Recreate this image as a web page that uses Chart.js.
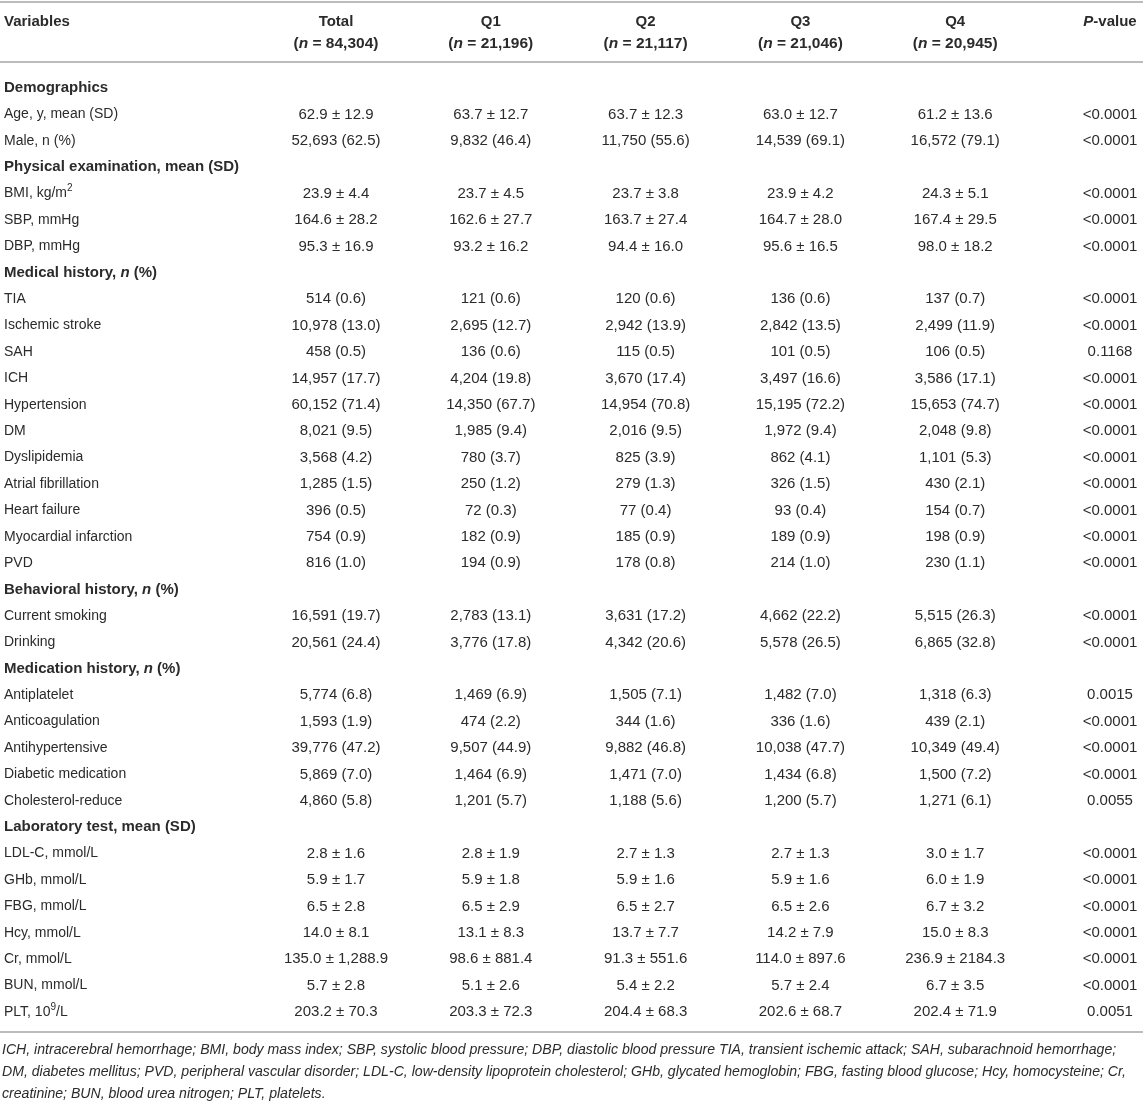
<!DOCTYPE html>
<html>
<head>
<meta charset="utf-8">
<script src="https://cdn.jsdelivr.net/npm/chart.js@4.4.1/dist/chart.umd.min.js"></script>
<style>
  html, body { margin: 0; background: #fff; }
  #wrap { width: 1143px; height: 1101px; }
</style>
</head>
<body>
<div id="wrap"><canvas id="tbl"></canvas></div>
<script>
// columns of the table
const columns = ['Total', 'Q1', 'Q2', 'Q3', 'Q4', 'P-value'];
const groupSizes = ['84,304', '21,196', '21,117', '21,046', '20,945'];

// {i:..} = italic, {s:..} = superscript
const sections = ['Demographics', 'Physical examination, mean (SD)', 'Medical history, {i:n} (%)',
  'Behavioral history, {i:n} (%)', 'Medication history, {i:n} (%)', 'Laboratory test, mean (SD)'];
const sectionSizes = [2, 3, 11, 2, 5, 7];

const variables = ['Age, y, mean (SD)', 'Male, n (%)',
  'BMI, kg/m{s:2}', 'SBP, mmHg', 'DBP, mmHg',
  'TIA', 'Ischemic stroke', 'SAH', 'ICH', 'Hypertension', 'DM', 'Dyslipidemia',
  'Atrial fibrillation', 'Heart failure', 'Myocardial infarction', 'PVD',
  'Current smoking', 'Drinking',
  'Antiplatelet', 'Anticoagulation', 'Antihypertensive', 'Diabetic medication', 'Cholesterol-reduce',
  'LDL-C, mmol/L', 'GHb, mmol/L', 'FBG, mmol/L', 'Hcy, mmol/L', 'Cr, mmol/L', 'BUN, mmol/L', 'PLT, 10{s:9}/L'];

const totalVals = ['62.9 ± 12.9', '52,693 (62.5)', '23.9 ± 4.4', '164.6 ± 28.2', '95.3 ± 16.9',
  '514 (0.6)', '10,978 (13.0)', '458 (0.5)', '14,957 (17.7)', '60,152 (71.4)', '8,021 (9.5)', '3,568 (4.2)',
  '1,285 (1.5)', '396 (0.5)', '754 (0.9)', '816 (1.0)', '16,591 (19.7)', '20,561 (24.4)',
  '5,774 (6.8)', '1,593 (1.9)', '39,776 (47.2)', '5,869 (7.0)', '4,860 (5.8)',
  '2.8 ± 1.6', '5.9 ± 1.7', '6.5 ± 2.8', '14.0 ± 8.1', '135.0 ± 1,288.9', '5.7 ± 2.8', '203.2 ± 70.3'];
const q1Vals = ['63.7 ± 12.7', '9,832 (46.4)', '23.7 ± 4.5', '162.6 ± 27.7', '93.2 ± 16.2',
  '121 (0.6)', '2,695 (12.7)', '136 (0.6)', '4,204 (19.8)', '14,350 (67.7)', '1,985 (9.4)', '780 (3.7)',
  '250 (1.2)', '72 (0.3)', '182 (0.9)', '194 (0.9)', '2,783 (13.1)', '3,776 (17.8)',
  '1,469 (6.9)', '474 (2.2)', '9,507 (44.9)', '1,464 (6.9)', '1,201 (5.7)',
  '2.8 ± 1.9', '5.9 ± 1.8', '6.5 ± 2.9', '13.1 ± 8.3', '98.6 ± 881.4', '5.1 ± 2.6', '203.3 ± 72.3'];
const q2Vals = ['63.7 ± 12.3', '11,750 (55.6)', '23.7 ± 3.8', '163.7 ± 27.4', '94.4 ± 16.0',
  '120 (0.6)', '2,942 (13.9)', '115 (0.5)', '3,670 (17.4)', '14,954 (70.8)', '2,016 (9.5)', '825 (3.9)',
  '279 (1.3)', '77 (0.4)', '185 (0.9)', '178 (0.8)', '3,631 (17.2)', '4,342 (20.6)',
  '1,505 (7.1)', '344 (1.6)', '9,882 (46.8)', '1,471 (7.0)', '1,188 (5.6)',
  '2.7 ± 1.3', '5.9 ± 1.6', '6.5 ± 2.7', '13.7 ± 7.7', '91.3 ± 551.6', '5.4 ± 2.2', '204.4 ± 68.3'];
const q3Vals = ['63.0 ± 12.7', '14,539 (69.1)', '23.9 ± 4.2', '164.7 ± 28.0', '95.6 ± 16.5',
  '136 (0.6)', '2,842 (13.5)', '101 (0.5)', '3,497 (16.6)', '15,195 (72.2)', '1,972 (9.4)', '862 (4.1)',
  '326 (1.5)', '93 (0.4)', '189 (0.9)', '214 (1.0)', '4,662 (22.2)', '5,578 (26.5)',
  '1,482 (7.0)', '336 (1.6)', '10,038 (47.7)', '1,434 (6.8)', '1,200 (5.7)',
  '2.7 ± 1.3', '5.9 ± 1.6', '6.5 ± 2.6', '14.2 ± 7.9', '114.0 ± 897.6', '5.7 ± 2.4', '202.6 ± 68.7'];
const q4Vals = ['61.2 ± 13.6', '16,572 (79.1)', '24.3 ± 5.1', '167.4 ± 29.5', '98.0 ± 18.2',
  '137 (0.7)', '2,499 (11.9)', '106 (0.5)', '3,586 (17.1)', '15,653 (74.7)', '2,048 (9.8)', '1,101 (5.3)',
  '430 (2.1)', '154 (0.7)', '198 (0.9)', '230 (1.1)', '5,515 (26.3)', '6,865 (32.8)',
  '1,318 (6.3)', '439 (2.1)', '10,349 (49.4)', '1,500 (7.2)', '1,271 (6.1)',
  '3.0 ± 1.7', '6.0 ± 1.9', '6.7 ± 3.2', '15.0 ± 8.3', '236.9 ± 2184.3', '6.7 ± 3.5', '202.4 ± 71.9'];
const pValues = ['<0.0001', '<0.0001', '<0.0001', '<0.0001', '<0.0001',
  '<0.0001', '<0.0001', '0.1168', '<0.0001', '<0.0001', '<0.0001', '<0.0001',
  '<0.0001', '<0.0001', '<0.0001', '<0.0001', '<0.0001', '<0.0001',
  '0.0015', '<0.0001', '<0.0001', '<0.0001', '0.0055',
  '<0.0001', '<0.0001', '<0.0001', '<0.0001', '<0.0001', '<0.0001', '0.0051'];

const footnote = [
  'ICH, intracerebral hemorrhage; BMI, body mass index; SBP, systolic blood pressure; DBP, diastolic blood pressure TIA, transient ischemic attack; SAH, subarachnoid hemorrhage;',
  'DM, diabetes mellitus; PVD, peripheral vascular disorder; LDL-C, low-density lipoprotein cholesterol; GHb, glycated hemoglobin; FBG, fasting blood glucose; Hcy, homocysteine; Cr,',
  'creatinine; BUN, blood urea nitrogen; PLT, platelets.'
];

const FONT = '"Liberation Sans", Arial, Helvetica, sans-serif';
const TEXT = '#2b2b2b';
const RULE = '#bcbcbc';

// rows = section headers interleaved with variables
const rowKeys = [];
const rowIsSection = [];
let k = 0;
sections.forEach((s, i) => {
  rowKeys.push(s);
  rowIsSection.push(true);
  for (let j = 0; j < sectionSizes[i]; j++) {
    rowKeys.push(variables[k++]);
    rowIsSection.push(false);
  }
});

const colValues = [totalVals, q1Vals, q2Vals, q3Vals, q4Vals, pValues];

function splitRich(str) {
  const parts = [];
  const re = /\{([is]):([^}]*)\}/g;
  let last = 0, m;
  while ((m = re.exec(str)) !== null) {
    if (m.index > last) parts.push({ t: str.slice(last, m.index), kind: '' });
    parts.push({ t: m[2], kind: m[1] });
    last = re.lastIndex;
  }
  if (last < str.length) parts.push({ t: str.slice(last), kind: '' });
  return parts;
}

function fontFor(kind, size, bold, italic) {
  const st = (italic || kind === 'i') ? 'italic ' : '';
  const w = bold ? 'bold ' : '';
  const sz = kind === 's' ? Math.round(size * 0.7) : size;
  return st + w + sz + 'px ' + FONT;
}

function drawRich(ctx, str, x, y, opt) {
  const size = opt.size || 14;
  const parts = splitRich(str);
  let total = 0;
  parts.forEach(p => {
    ctx.font = fontFor(p.kind, size, opt.bold, opt.italic);
    p.w = ctx.measureText(p.t).width;
    total += p.w;
  });
  let cx = x;
  if (opt.align === 'center') cx = x - total / 2;
  else if (opt.align === 'right') cx = x - total;
  ctx.textAlign = 'left';
  ctx.textBaseline = 'middle';
  parts.forEach(p => {
    ctx.font = fontFor(p.kind, size, opt.bold, opt.italic);
    const dy = p.kind === 's' ? -size * 0.35 : 0;
    ctx.fillText(p.t, cx, y + dy);
    cx += p.w;
  });
}

const tablePlugin = {
  id: 'tableText',
  afterDatasetsDraw(chart) {
    const { ctx, scales: { x, y } } = chart;
    const W = chart.width;
    ctx.save();
    ctx.fillStyle = TEXT;

    // rules
    ctx.strokeStyle = RULE;
    ctx.lineWidth = 2;
    [2, 62, 1032].forEach(ry => {
      ctx.beginPath();
      ctx.moveTo(0, ry);
      ctx.lineTo(W, ry);
      ctx.stroke();
    });

    // header
    drawRich(ctx, 'Variables', 4, 22, { bold: true, size: 15, align: 'left' });
    columns.forEach((c, ci) => {
      const px = x.getPixelForValue(ci);
      if (c === 'P-value') {
        drawRich(ctx, '{i:P}-value', px, 22, { bold: true, size: 15, align: 'center' });
      } else {
        drawRich(ctx, c, px, 22, { bold: true, size: 15, align: 'center' });
        drawRich(ctx, '({i:n} = ' + groupSizes[ci] + ')', px, 44, { bold: true, size: 15.5, align: 'center' });
      }
    });

    // row labels
    rowKeys.forEach((r, i) => {
      const sec = rowIsSection[i];
      drawRich(ctx, r, 4, y.getPixelForValue(i), { bold: sec, size: sec ? 15 : 14, align: 'left' });
    });

    // cells
    chart.data.datasets.forEach((ds, di) => {
      chart.getDatasetMeta(di).data.forEach((pt, i) => {
        drawRich(ctx, ds.data[i].text, pt.x, pt.y, { size: 15, align: 'center' });
      });
    });

    // footnote
    footnote.forEach((line, i) => {
      drawRich(ctx, line, 2, 1050 + i * 22, { italic: true, size: 14.1, align: 'left' });
    });
    ctx.restore();
  }
};

new Chart(document.getElementById('tbl'), {
  type: 'scatter',
  data: {
    datasets: columns.map((c, ci) => ({
      label: c,
      data: variables.map((v, i) => ({ x: c, y: v, text: colValues[ci][i] })),
      pointRadius: 0,
      pointHoverRadius: 0
    }))
  },
  options: {
    responsive: true,
    maintainAspectRatio: false,
    animation: false,
    events: [],
    layout: { padding: { left: 336, right: 33, top: 88, bottom: 89 } },
    plugins: { legend: { display: false }, tooltip: { enabled: false } },
    scales: {
      x: { type: 'category', labels: columns, display: false, offset: false },
      y: { type: 'category', labels: rowKeys, display: false, offset: false }
    }
  },
  plugins: [tablePlugin]
});
</script>
</body>
</html>
